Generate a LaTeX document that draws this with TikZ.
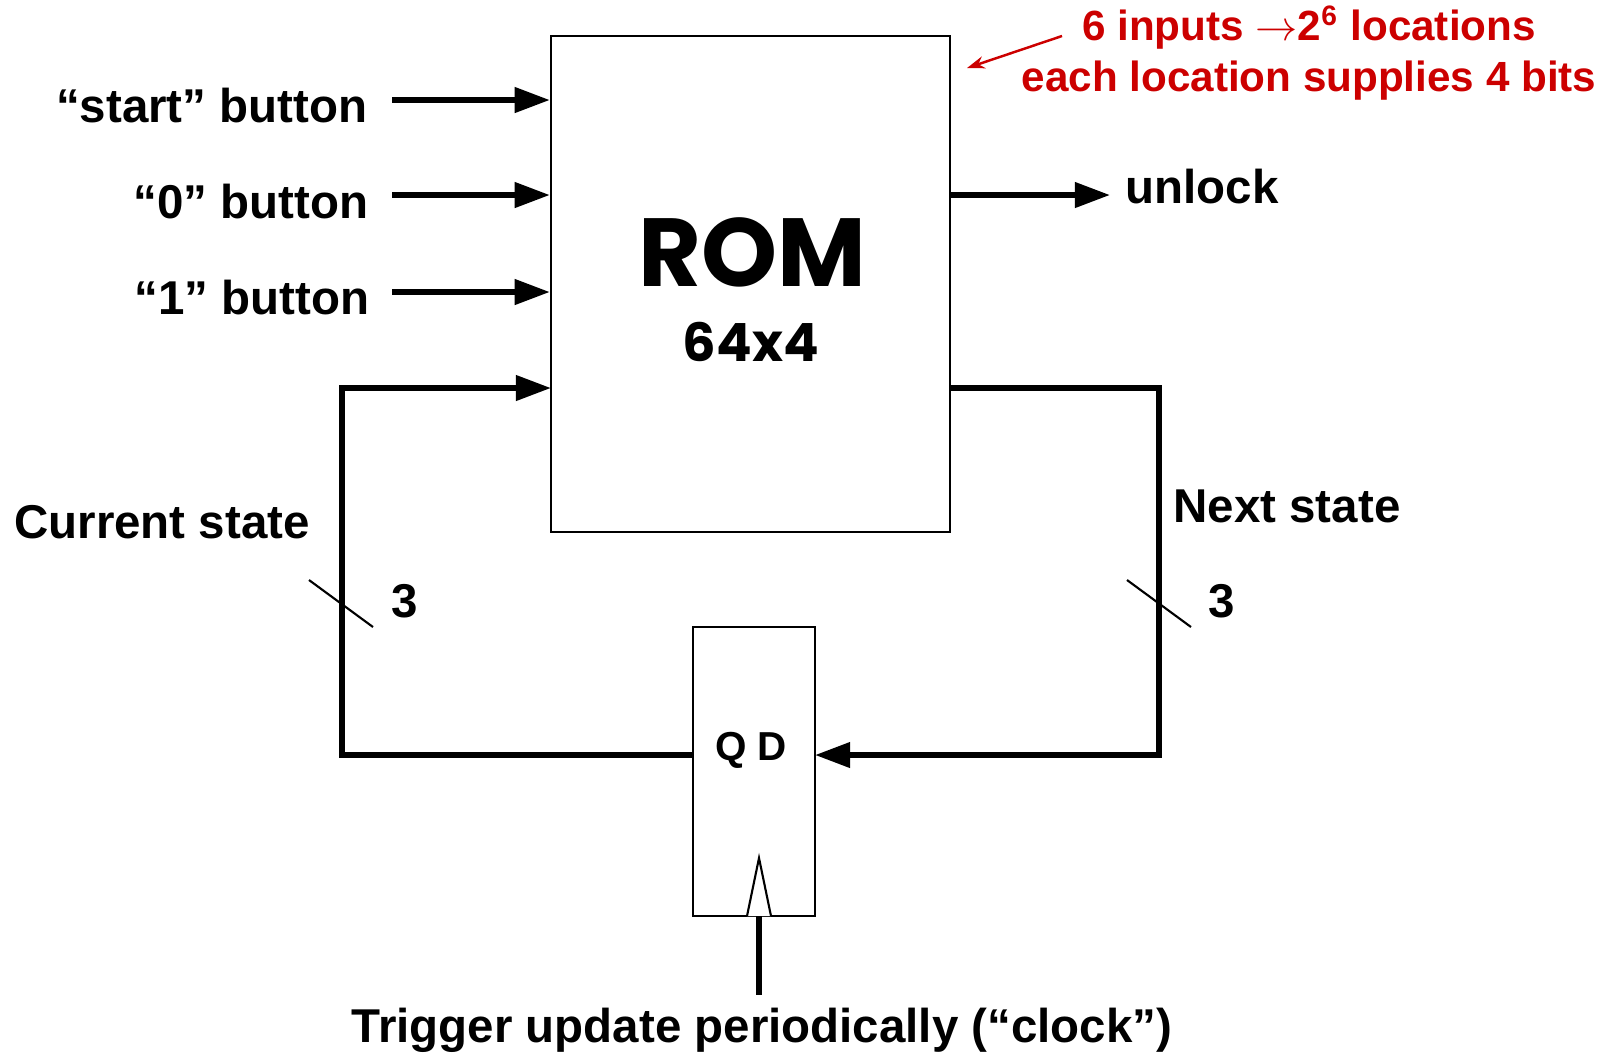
\documentclass[tikz,border=0pt]{standalone}
\usepackage{fontspec}
\setmainfont{Liberation Sans}
\newfontfamily\romfont{Poppins}
\usetikzlibrary{arrows.meta}
\definecolor{notered}{RGB}{204,0,0}

\begin{document}
\begin{tikzpicture}[x=0.01cm,y=-0.01cm,
  wire/.style={line width=1.6pt},
  arr/.style={-{Triangle[length=10pt,width=7pt]}},
  lbl/.style={font=\fontsize{13.5}{16}\selectfont\bfseries, inner sep=0pt},
  box/.style={draw, line width=0.6pt, inner sep=0pt}]
  \useasboundingbox (0,0) rectangle (1616,1056);
  % memory block
  \node[box, minimum width=3.99cm, minimum height=4.96cm] (rom) at (750.5,284) {};
  \node[font=\romfont\bfseries\fontsize{27.5}{30}\selectfont] (romname) at (752,252) {ROM};
  \node[font=\romfont\bfseries\fontsize{15}{18}\selectfont] (romsize) at (751,342) {64x4};
  % state register
  \node[box, minimum width=1.22cm, minimum height=2.89cm] (ff) at (754,771.5) {};
  \node[lbl, font=\fontsize{11.5}{14}\selectfont\bfseries] (qd) at (751,750) {Q D};
  \coordinate (clk) at (759,916);
  \coordinate (clkend) at (759,995);
  \draw[fill=white, line width=0.6pt] (clk) ++(-12,0) -- ++(12,-58) -- ++(12,58);
  \draw[wire] (clk) -- (clkend);
  \node[lbl] (clocktxt) at (762,1030) {Trigger update periodically (“clock”)};
  % inputs
  \node[lbl, anchor=east] (lstart) at (368,106) {“start” button};
  \node[lbl, anchor=east] (lzero) at (369,202) {“0” button};
  \node[lbl, anchor=east] (lone) at (370,298) {“1” button};
  \coordinate (in1) at (392,100);
  \coordinate (in2) at (392,195);
  \coordinate (in3) at (392,292);
  \draw[wire,arr] (in1) -- (in1 -| rom.west);
  \draw[wire,arr] (in2) -- (in2 -| rom.west);
  \draw[wire,arr] (in3) -- (in3 -| rom.west);
  % output
  \coordinate (out) at (950,195);
  \coordinate (outend) at (1110,195);
  \draw[wire,arr] (out) -- (outend);
  \node[lbl, anchor=west] (unlock) at (1125,187) {unlock};
  % state loop
  \coordinate (cur) at (551,388);
  \coordinate (nxt) at (950,388);
  \coordinate (q) at (693,755);
  \coordinate (d) at (815,755);
  \draw[wire,arr] (q) -| (342,388) -- (cur);
  \draw[wire,arr] (nxt) -| (1159,755) -- (d);
  \node[lbl] (curtxt) at (162,522) {Current state};
  \node[lbl] (nxttxt) at (1287,506) {Next state};
  \draw[line width=0.6pt] (309,580) -- (373,627);
  \draw[line width=0.6pt] (1127,580) -- (1191,627);
  \node[lbl] (curbits) at (405,601) {3};
  \node[lbl] (nxtbits) at (1222,601) {3};
  % note
  \node[lbl, font=\fontsize{12}{14.5}\selectfont\bfseries, text=notered, align=center] (note) at (1309,53)
    {6 inputs $\rightarrow$2\textsuperscript{6} locations\\each location supplies 4 bits};
  \coordinate (notefrom) at (1062,36);
  \coordinate (noteto) at (967,68);
  \draw[notered, line width=0.7pt, -{Stealth[length=5pt,width=3.5pt]}] (notefrom) -- (noteto);
\end{tikzpicture}
\end{document}
